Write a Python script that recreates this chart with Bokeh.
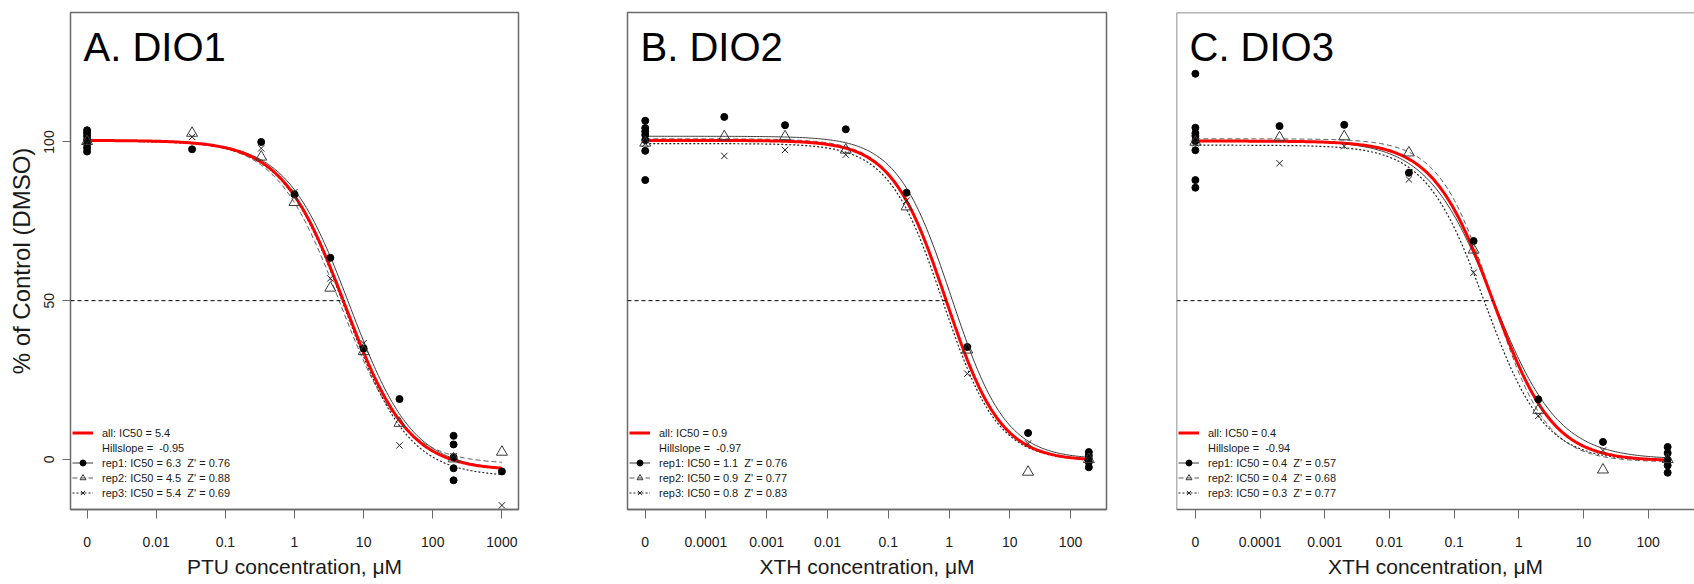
import numpy as np
from bokeh.plotting import figure
from bokeh.models import (FixedTicker, Legend, LegendItem, Label, Span, Range1d)
from bokeh.layouts import row
from bokeh.embed import file_html
from bokeh.resources import INLINE

# ---------------- data ----------------
# Panel A: DIO1 / PTU
A_title = "A. DIO1"
A_xlabel = "PTU concentration, \u03bcM"
A_tick_labels = ["0", "0.01", "0.1", "1", "10", "100", "1000"]
A_rep1_x = [0, 0, 0, 0, 0, 0, 0, 0.033, 0.33, 1, 3.3, 10, 33, 200, 200, 200, 200, 200, 1000]
A_rep1_y = [103.7, 102.8, 101.8, 100.6, 99.4, 98.2, 97.0, 97.7, 100.0, 83.5, 63.5, 34.9, 19.0,
            7.4, 4.7, 0.7, -2.8, -6.6, -3.8]
A_rep2_x = [0, 0.033, 0.33, 1, 3.3, 10, 33, 200, 1000]
A_rep2_y = [100.2, 102.8, 95.3, 81.0, 54.0, 34.0, 11.4, 0.2, 2.3]
A_rep3_x = [0, 0.033, 0.33, 1, 3.3, 10, 33, 200, 1000]
A_rep3_y = [99.8, 101.6, 98.0, 84.2, 57.0, 36.6, 4.4, 1.0, -14.5]
A_ic50 = [5.4, 6.3, 4.5, 5.4]          # all, rep1, rep2, rep3
A_hill = [-0.95, -0.95, -0.95, -0.95]
A_top = [100.5, 100.3, 100.6, 100.3]
A_bottom = [-3.5, -3.5, -1.5, -5.5]
A_zprime = [0.76, 0.88, 0.69]

# Panel B: DIO2 / XTH
B_title = "B. DIO2"
B_xlabel = "XTH concentration, \u03bcM"
B_tick_labels = ["0", "0.0001", "0.001", "0.01", "0.1", "1", "10", "100"]
B_rep1_x = [0, 0, 0, 0, 0, 0, 0, 0.0002, 0.002, 0.02, 0.2, 2, 20, 200, 200, 200, 200, 200]
B_rep1_y = [106.7, 104.4, 103.3, 102.2, 100.6, 97.2, 88.0, 107.9, 105.3, 104.0, 84.0, 35.4, 8.3,
            2.3, 1.2, 0.2, -0.9, -2.5]
B_rep2_x = [0, 0.0002, 0.002, 0.02, 0.2, 2, 20, 200]
B_rep2_y = [99.7, 101.7, 101.7, 97.5, 79.6, 34.5, -4.0, 0.0]
B_rep3_x = [0, 0.0002, 0.002, 0.02, 0.2, 2, 20, 200]
B_rep3_y = [99.5, 95.6, 97.5, 96.0, 81.5, 27.0, 5.0, 0.3]
B_ic50 = [0.9, 1.1, 0.9, 0.8]
B_hill = [-0.97, -0.97, -0.97, -0.97]
B_top = [100.5, 101.8, 101.0, 99.5]
B_bottom = [-0.5, 0.0, -0.5, -0.5]
B_zprime = [0.76, 0.77, 0.83]

# Panel C: DIO3 / XTH
C_title = "C. DIO3"
C_xlabel = "XTH concentration, \u03bcM"
C_tick_labels = ["0", "0.0001", "0.001", "0.01", "0.1", "1", "10", "100"]
C_rep1_x = [0, 0, 0, 0, 0, 0, 0, 0, 0.0002, 0.002, 0.02, 0.2, 2, 20, 200, 200, 200, 200, 200]
C_rep1_y = [121.5, 104.5, 102.8, 101.9, 100.3, 97.4, 88.0, 85.6, 105.0, 105.4, 90.3, 68.8, 18.9,
            5.5, 3.9, 2.0, -0.1, -1.9, -4.2]
C_rep2_x = [0, 0.0002, 0.002, 0.02, 0.2, 2, 20, 200]
C_rep2_y = [100.0, 101.4, 101.7, 96.6, 66.0, 15.5, -3.3, 0.0]
C_rep3_x = [0, 0.0002, 0.002, 0.02, 0.2, 2, 20, 200]
C_rep3_y = [99.6, 93.3, 98.7, 88.2, 58.8, 13.7, 2.8, 0.5]
C_ic50 = [0.4, 0.4, 0.4, 0.3]
C_hill = [-0.94, -0.85, -1.05, -0.95]
C_top = [100.3, 100.5, 101.0, 99.0]
C_bottom = [-0.5, 0.0, -0.8, -0.5]
C_zprime = [0.57, 0.68, 0.77]

Y_LABEL = "% of Control (DMSO)"
Y_TICKS = [0, 50, 100]
Y_RANGE = (-15.8, 140.8)

FONT = "Liberation Sans"
FRAME_COL = "#6a6a6a"
TXT_COL = "#1a1a1a"


def to_log(xs, zero_log):
    return [zero_log if v == 0 else float(np.log10(v)) for v in xs]


def logistic(lx, ic50, hill, top, bottom):
    return bottom + (top - bottom) / (1.0 + 10 ** ((np.log10(ic50) - lx) * hill))


def panel(title, xlabel, tick_labels, zero_log, xr, reps, ic50, hill, top, bottom, zp,
          frame_w, bl, br, show_y, outline):
    p = figure(frame_width=frame_w, frame_height=497,
               x_range=Range1d(*xr), y_range=Range1d(*Y_RANGE),
               output_backend="svg", toolbar_location=None,
               min_border_left=bl, min_border_right=br, min_border_top=12, min_border_bottom=75,
               y_axis_location="left" if show_y else None,
               background_fill_color="white", border_fill_color="white")
    p.xgrid.visible = False
    p.ygrid.visible = False
    if outline:
        p.outline_line_color = FRAME_COL
        p.outline_line_width = 1.5
    else:
        p.outline_line_color = None
        p.add_layout(Span(location=xr[0], dimension="height", line_color=FRAME_COL, line_width=1.5))
        p.add_layout(Span(location=Y_RANGE[1], dimension="width", line_color=FRAME_COL, line_width=1.5))

    ticks = list(range(zero_log, zero_log + len(tick_labels)))
    ax = p.xaxis[0]
    ax.ticker = FixedTicker(ticks=ticks, minor_ticks=[])
    ax.major_label_overrides = {t: lab for t, lab in zip(ticks, tick_labels)}
    ax.axis_line_color = FRAME_COL
    ax.axis_line_width = 1.5
    ax.major_tick_line_color = FRAME_COL
    ax.major_tick_out = 9
    ax.major_tick_in = 0
    ax.minor_tick_line_color = None
    ax.major_label_text_font = FONT
    ax.major_label_text_font_size = "14px"
    ax.major_label_text_color = TXT_COL
    ax.major_label_standoff = 18
    ax.axis_label = xlabel
    ax.axis_label_text_font = FONT
    ax.axis_label_text_font_size = "21px"
    ax.axis_label_text_font_style = "normal"
    ax.axis_label_text_color = TXT_COL
    ax.axis_label_standoff = 5

    if show_y:
        ay = p.yaxis[0]
        ay.ticker = FixedTicker(ticks=Y_TICKS, minor_ticks=[])
        ay.axis_line_color = None
        ay.major_tick_line_color = FRAME_COL
        ay.major_tick_out = 8
        ay.major_tick_in = 0
        ay.minor_tick_line_color = None
        ay.major_label_orientation = "vertical"
        ay.major_label_text_font = FONT
        ay.major_label_text_font_size = "14px"
        ay.major_label_text_color = TXT_COL
        ay.major_label_standoff = 8
        ay.axis_label = Y_LABEL
        ay.axis_label_text_font = FONT
        ay.axis_label_text_font_size = "24px"
        ay.axis_label_text_font_style = "normal"
        ay.axis_label_text_color = TXT_COL
        ay.axis_label_standoff = 7

    xmax = max(to_log(reps[0][0], zero_log))
    lx = np.linspace(zero_log, xmax, 300)
    styles = [dict(line_color="#3a3a3a", line_width=1),
              dict(line_color="#5a5a5a", line_width=1, line_dash="5 3"),
              dict(line_color="#222222", line_width=1.2, line_dash="2 2")]
    line_r = []
    for i in range(3):
        line_r.append(p.line(lx, logistic(lx, ic50[i + 1], hill[i + 1], top[i + 1], bottom[i + 1]),
                             **styles[i]))
    all_y = logistic(lx, ic50[0], hill[0], top[0], bottom[0])
    red = p.line(lx, all_y, line_color="#ff0000", line_width=3)
    blank = p.line(lx, all_y, line_alpha=0)

    # 50 % reference
    p.segment(x0=[xr[0]], y0=[50], x1=[float(np.log10(ic50[0]))], y1=[50],
              line_color="black", line_width=1, line_dash="4 3")

    mk = [dict(marker="circle", size=7, fill_color="black", line_color="black"),
          dict(marker="triangle", size=11, fill_color=None, line_color="#3a3a3a", line_width=1),
          dict(marker="x", size=9, line_color="#222222", line_width=1)]
    sc_r = []
    for i, (xs, ys) in enumerate(reps):
        sc_r.append(p.scatter(to_log(xs, zero_log), ys, **mk[i]))

    items = [LegendItem(label="all: IC50 = %s" % ic50[0], renderers=[red]),
             LegendItem(label="Hillslope =  %s" % hill[0], renderers=[blank])]
    for i in range(3):
        items.append(LegendItem(label="rep%d: IC50 = %s  Z' = %s" % (i + 1, ic50[i + 1], zp[i]),
                                renderers=[line_r[i], sc_r[i]]))
    leg = Legend(items=items, location=(2, 9), border_line_color=None,
                 background_fill_alpha=0, label_text_font=FONT, label_text_font_size="11px",
                 label_text_color=TXT_COL,
                 glyph_width=21, glyph_height=15, label_height=15, spacing=0, padding=0,
                 margin=0, label_standoff=9)
    p.add_layout(leg)

    p.add_layout(Label(x=13, y=463, x_units="screen", y_units="screen", text=title,
                       text_font=FONT, text_font_size="40px", text_color="black",
                       text_baseline="alphabetic"))
    return p


pA = panel(A_title, A_xlabel, A_tick_labels, -3, (-3.24, 3.24),
           [(A_rep1_x, A_rep1_y), (A_rep2_x, A_rep2_y), (A_rep3_x, A_rep3_y)],
           A_ic50, A_hill, A_top, A_bottom, A_zprime, 448, 70, 54, True, True)
pB = panel(B_title, B_xlabel, B_tick_labels, -5, (-5.292, 2.592),
           [(B_rep1_x, B_rep1_y), (B_rep2_x, B_rep2_y), (B_rep3_x, B_rep3_y)],
           B_ic50, B_hill, B_top, B_bottom, B_zprime, 479, 55, 40, False, True)
pC = panel(C_title, C_xlabel, C_tick_labels, -5, (-5.292, 2.716),
           [(C_rep1_x, C_rep1_y), (C_rep2_x, C_rep2_y), (C_rep3_x, C_rep3_y)],
           C_ic50, C_hill, C_top, C_bottom, C_zprime, 518, 30, 0, False, False)

layout = row(pA, pB, pC, spacing=0)
open("out.html", "w").write(file_html(layout, INLINE))
